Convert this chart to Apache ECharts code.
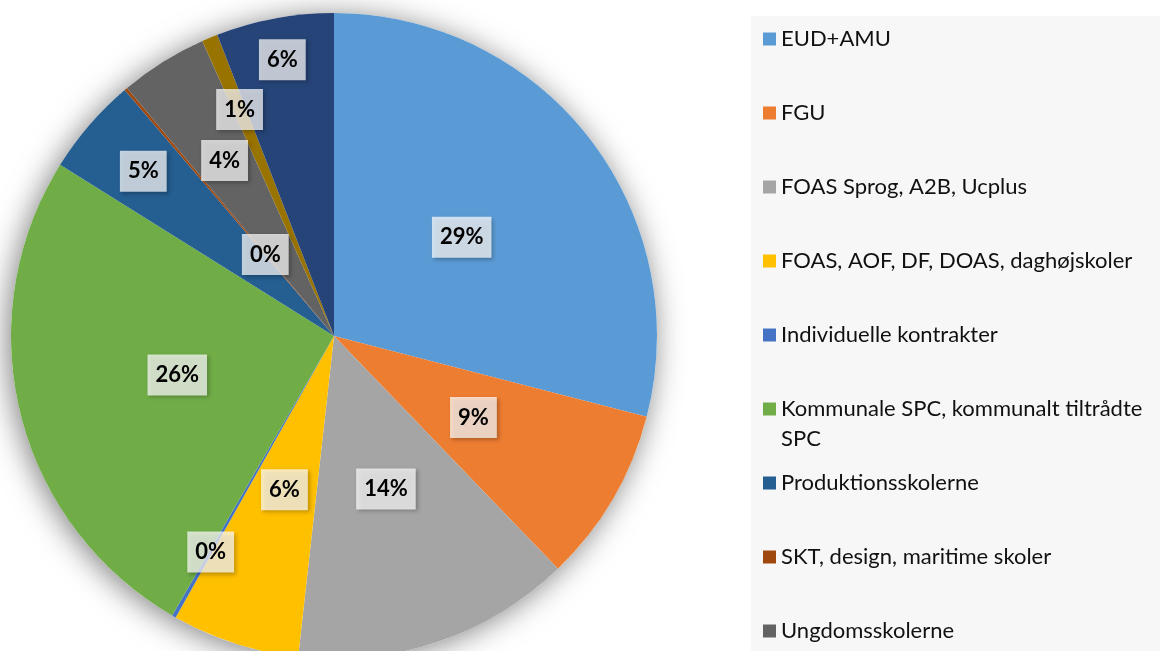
<!DOCTYPE html>
<html>
<head>
<meta charset="utf-8">
<script src="https://cdn.jsdelivr.net/npm/echarts@6/dist/echarts.min.js"></script>
<style>
  html, body { margin: 0; padding: 0; background: #fff; }
  #chart { width: 1160px; height: 651px; }
</style>
</head>
<body>
<div id="chart"></div>
<script>
var names = ['EUD+AMU', 'FGU', 'FOAS Sprog, A2B, Ucplus', 'FOAS, AOF, DF, DOAS, daghøjskoler',
    'Individuelle kontrakter', 'Kommunale SPC, kommunalt tiltrådte SPC', 'Produktionsskolerne',
    'SKT, design, maritime skoler', 'Ungdomsskolerne', 'VUC', 'Øvrige'];
var shares = [29.1, 8.8, 14.0, 6.4, 0.2, 25.6, 4.9, 0.15, 4.4, 0.8, 5.9];
var colors = ['#5B9BD5', '#ED7D31', '#A5A5A5', '#FFC000', '#4472C4', '#70AD47',
    '#255E91', '#9E480E', '#636363', '#997300', '#264478'];

// label distance from centre, as part of the radius (Excel moved the small ones)
var labelRadius = [0.5, 0.5, 0.5, 0.5, 0.77, 0.5, 0.78, 0.33, 0.64, 0.76, 0.87];

var cx = 334, cy = 336, R = 323;

var chart = echarts.init(document.getElementById('chart'));

var legends = names.map(function (n, i) {
    var wraps = n.length > 36;
    return {
        data: [n],
        left: 763,
        top: 24 + i * 74 - (wraps ? 30 : 0),
        orient: 'vertical',
        padding: 0,
        itemWidth: 13,
        itemHeight: 13,
        icon: 'rect',
        selectedMode: false,
        // empty first line keeps the marker level with the first text line
        formatter: wraps ? '\n{name}' : '{name}',
        textStyle: {
            fontFamily: 'Lato',
            fontSize: 22,
            color: '#111',
            lineHeight: 30,
            width: 395,
            overflow: 'break'
        }
    };
});

chart.setOption({
    color: colors,
    graphic: [{
        type: 'rect',
        z: -10,
        shape: { x: 751, y: 16, width: 420, height: 650 },
        style: { fill: '#f7f7f7' }
    }],
    legend: legends,
    series: [
        {
            type: 'pie',
            silent: true,
            center: [cx, cy],
            radius: R,
            z: 1,
            label: { show: false },
            itemStyle: {
                color: '#fff',
                shadowBlur: 30,
                shadowOffsetX: -3,
                shadowOffsetY: 3,
                shadowColor: 'rgba(0,0,0,0.5)'
            },
            data: [{ value: 1, name: '' }]
        },
        {
            type: 'pie',
            center: [cx, cy],
            radius: R,
            z: 2,
            startAngle: 90,
            clockwise: true,
            percentPrecision: 0,
            avoidLabelOverlap: false,
            itemStyle: { borderWidth: 0 },
            label: {
                show: true,
                position: 'inside',
                formatter: '{d}%',
                fontFamily: 'Lato',
                fontWeight: 'bold',
                fontSize: 22,
                color: '#000',
                backgroundColor: 'rgba(255,255,255,0.72)',
                padding: [10, 8, 9, 8],
                shadowColor: 'rgba(0,0,0,0.35)',
                shadowBlur: 4,
                shadowOffsetX: 2,
                shadowOffsetY: 2
            },
            labelLayout: function (params) {
                var r = params.labelRect;
                var x = r.x + r.width / 2 - cx;
                var y = r.y + r.height / 2 - cy;
                var len = Math.sqrt(x * x + y * y) || 1;
                var d = labelRadius[params.dataIndex] * R;
                return { x: cx + x / len * d, y: cy + y / len * d };
            },
            data: names.map(function (n, i) {
                return { name: n, value: shares[i] };
            })
        }
    ]
});
</script>
</body>
</html>
